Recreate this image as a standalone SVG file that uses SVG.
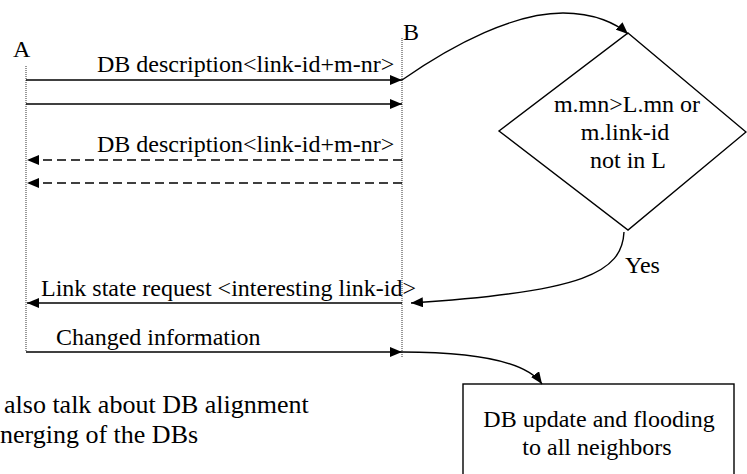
<svg xmlns="http://www.w3.org/2000/svg" width="747" height="474" viewBox="0 0 747 474">
  <style>
    text { fill: #000; font-family: 'Times New Roman', serif; font-size: 24px; }
    .life { stroke: #333; stroke-width: 1; stroke-dasharray: 1 1; fill: none; }
    .msg { stroke: #000; stroke-width: 1.5; fill: none; }
    .dash { stroke-dasharray: 9 5; }
    .flow { stroke: #000; stroke-width: 1.4; fill: none; }
    .shape { fill: #fff; stroke: #000; stroke-width: 1.4; }
    .mid { text-anchor: middle; }
    .note { font-size: 26px; }
  </style>
  <defs>
    <marker id="head" viewBox="0 0 12 10" refX="12" refY="5" markerWidth="12" markerHeight="10" markerUnits="userSpaceOnUse" orient="auto">
      <path d="M0,0 L12,5 L0,10 Z" fill="#000"/>
    </marker>
  </defs>

  <rect width="747" height="474" fill="#fff"/>

  <!-- lifelines -->
  <g id="lifeline-A">
    <line class="life" x1="26" y1="66" x2="26" y2="351"/>
    <text x="13" y="57">A</text>
  </g>
  <g id="lifeline-B">
    <line class="life" x1="402" y1="38" x2="402" y2="358"/>
    <text x="403" y="40">B</text>
  </g>

  <!-- decision -->
  <g id="decision">
    <polygon class="shape" points="628,33 746,132 628,230 499,131"/>
    <text class="mid" x="627" y="112">m.mn&gt;L.mn or</text>
    <text class="mid" x="625" y="140">m.link-id</text>
    <text class="mid" x="628" y="168">not in L</text>
  </g>

  <!-- update box -->
  <g id="update">
    <rect class="shape" x="463" y="384" width="271" height="100"/>
    <text class="mid" x="599" y="427">DB update and flooding</text>
    <text class="mid" x="597" y="455">to all neighbors</text>
  </g>

  <!-- note -->
  <g id="note">
    <text class="note" x="4" y="413">also talk about DB alignment</text>
    <text class="note" x="0" y="443">nerging of the DBs</text>
  </g>

  <!-- connectors -->
  <g id="connectors">
    <line class="msg" x1="26" y1="80" x2="402" y2="80" marker-end="url(#head)"/>
    <line class="msg" x1="26" y1="104" x2="402" y2="104" marker-end="url(#head)"/>
    <line class="msg dash" x1="402" y1="160" x2="27" y2="160" marker-end="url(#head)"/>
    <line class="msg dash" x1="402" y1="183" x2="27" y2="183" marker-end="url(#head)"/>
    <line class="msg" x1="402" y1="303" x2="27" y2="303" marker-end="url(#head)"/>
    <line class="msg" x1="26" y1="352" x2="402" y2="352" marker-end="url(#head)"/>

    <path class="flow" d="M402,80 C455,43 515,13 563,13 C595,13 617,24 628,34" marker-end="url(#head)"/>
    <path class="flow" d="M624,232 C622,272 585,292 411,303" marker-end="url(#head)"/>
    <path class="flow" d="M402,352 C470,352 525,360 542,384" marker-end="url(#head)"/>
  </g>

  <!-- message labels -->
  <g id="labels">
    <text x="97" y="72">DB description&lt;link-id+m-nr&gt;</text>
    <text x="97" y="152">DB description&lt;link-id+m-nr&gt;</text>
    <text x="41" y="296">Link state request &lt;interesting link-id&gt;</text>
    <text x="56" y="345">Changed information</text>
    <text x="625" y="273">Yes</text>
  </g>
</svg>
